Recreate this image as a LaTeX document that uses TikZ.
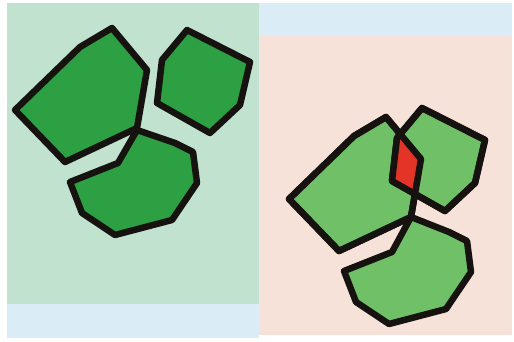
\documentclass[tikz,border=0pt]{standalone}
\usepackage{tikz}

\definecolor{bggreen}{RGB}{192,226,206}
\definecolor{bgblue}{RGB}{218,236,246}
\definecolor{bgpink}{RGB}{246,226,216}
\definecolor{cellgreen}{RGB}{44,160,66}
\definecolor{lightcell}{RGB}{112,192,104}
\definecolor{overlapred}{RGB}{228,52,40}
\definecolor{rim}{RGB}{22,18,16}

\begin{document}
\begin{tikzpicture}[x=1pt,y=-1pt,
    cell/.style={draw=rim,line width=6.5pt,line join=round},
    darkcell/.style={cell,fill=cellgreen},
    palecell/.style={cell,fill=lightcell}]
  \useasboundingbox (0,0) rectangle (514,341);
  % backgrounds
  \fill[white] (0,0) rectangle (514,341);
  \fill[bggreen] (7,3) rectangle (259,304);
  \fill[bgblue] (7,304) rectangle (259,338);
  \fill[bgblue] (259,3) rectangle (512,35);
  \fill[bgpink] (259,35) rectangle (512,335);
  % left: three separate cells
  \draw[darkcell] (112,28) -- (147,70) -- (137,128) -- (65,162) -- (15,110) -- (80,47) -- cycle;
  \draw[darkcell] (187,30) -- (250,62) -- (240,105) -- (210,133) -- (157,103) -- (162,60) -- cycle;
  \draw[darkcell] (137,130) -- (118,163) -- (70,182) -- (82,213) -- (115,235) -- (172,220) -- (197,183) -- (193,152) -- (175,143) -- cycle;
  % right: upper cell pushed onto the big one
  \begin{scope}[shift={(274,89)}]
    \draw[palecell] (112,28) -- (147,70) -- (137,128) -- (65,162) -- (15,110) -- (80,47) -- cycle;
    \draw[palecell] (137,128) -- (118,163) -- (70,182) -- (82,213) -- (115,235) -- (172,220) -- (197,183) -- (193,152) -- (175,143) -- cycle;
  \end{scope}
  \draw[palecell] (422,108) -- (485,140) -- (475,183) -- (445,211) -- (392,181) -- (397,138) -- cycle;
  % overlap
  \begin{scope}
    \clip (422,108) -- (485,140) -- (475,183) -- (445,211) -- (392,181) -- (397,138) -- cycle;
    \fill[overlapred] (386,117) -- (421,159) -- (411,217) -- (339,251) -- (289,199) -- (354,136) -- cycle;
  \end{scope}
  \draw[cell] (386,117) -- (421,159) -- (411,217) -- (339,251) -- (289,199) -- (354,136) -- cycle;
  \draw[cell] (422,108) -- (485,140) -- (475,183) -- (445,211) -- (392,181) -- (397,138) -- cycle;
\end{tikzpicture}
\end{document}
